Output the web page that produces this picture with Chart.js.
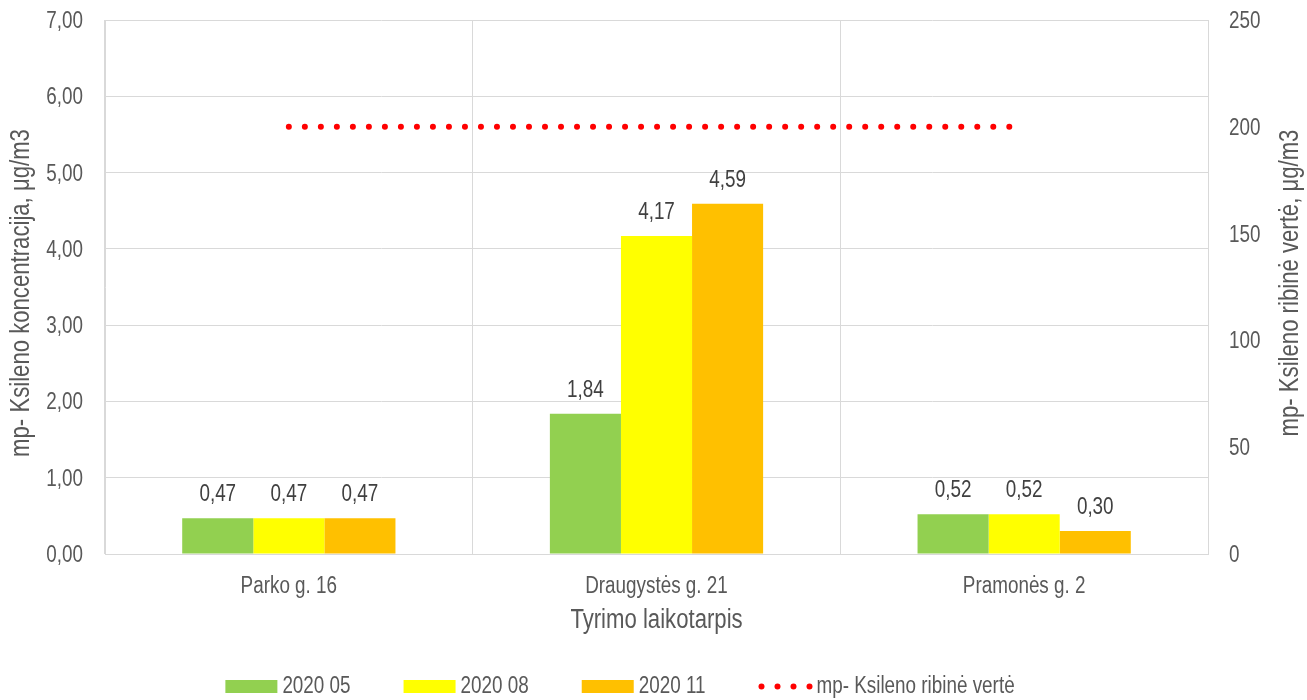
<!DOCTYPE html>
<html lang="lt">
<head>
<meta charset="utf-8">
<title>mp- Ksileno koncentracija</title>
<script src="https://cdn.jsdelivr.net/npm/chart.js@4.4.1/dist/chart.umd.min.js"></script>
<style>
  html, body { margin: 0; padding: 0; background: #fff; }
  #graphique { display: block; }
</style>
</head>
<body>
<canvas id="graphique" width="1307" height="700"></canvas>
<script>
const categories = ["Parko g. 16", "Draugystės g. 21", "Pramonės g. 2"];
const serie05 = [0.47, 1.84, 0.52];
const serie08 = [0.47, 4.17, 0.52];
const serie11 = [0.47, 4.59, 0.30];
const ribineVerte = [200, 200, 200];
const seriesLabels = ["2020 05", "2020 08", "2020 11", "mp- Ksileno ribinė vertė"];
const leftTicks = [0, 1, 2, 3, 4, 5, 6, 7];
const rightTicks = [0, 50, 100, 150, 200, 250];
const titreX = "Tyrimo laikotarpis";
const titreY = "mp- Ksileno koncentracija, μg/m3";
const titreY1 = "mp- Ksileno ribinė vertė, μg/m3";

const FONT = "'Liberation Sans', Arial, sans-serif";
const ETROIT = 0.82; // pas de police "narrow" installée, on compresse
const GRIS = "#d9d9d9";
const TEXTE = "#595959";

function virgule(v) {
    return v.toFixed(2).replace(".", ",");
}

function ecrire(ctx, str, x, y, taille, align, couleur, angle) {
    ctx.save();
    ctx.translate(x, y);
    if (angle) ctx.rotate(angle);
    ctx.scale(ETROIT, 1);
    ctx.font = taille + "px " + FONT;
    ctx.fillStyle = couleur || TEXTE;
    ctx.textAlign = align;
    ctx.textBaseline = "alphabetic";
    ctx.fillText(str, 0, 0);
    ctx.restore();
}

function largeur(ctx, str, taille) {
    ctx.save();
    ctx.font = taille + "px " + FONT;
    let w = ctx.measureText(str).width * ETROIT;
    ctx.restore();
    return w;
}

// valeurs au-dessus des barres
const etiquettes = {
    id: "etiquettes",
    afterDatasetsDraw(chart) {
        let ctx = chart.ctx;
        chart.data.datasets.forEach(function (ds, i) {
            if (ds.type === "line") return;
            chart.getDatasetMeta(i).data.forEach(function (bar, j) {
                ecrire(ctx, virgule(ds.data[j]), bar.x, bar.y - 17, 23, "center", "#404040");
            });
        });
    }
};

// graduations, titres des axes et légende
const textes = {
    id: "textes",
    afterDraw(chart) {
        let ctx = chart.ctx;
        let area = chart.chartArea;
        let sx = chart.scales.x, sy = chart.scales.y, sy1 = chart.scales.y1;

        sy.ticks.forEach(function (t) {
            ecrire(ctx, virgule(t.value), area.left - 22, sy.getPixelForValue(t.value) + 8, 23, "right");
        });
        sy1.ticks.forEach(function (t) {
            ecrire(ctx, String(t.value), area.right + 21, sy1.getPixelForValue(t.value) + 8, 23, "left");
        });
        chart.data.labels.forEach(function (lab, i) {
            ecrire(ctx, lab, sx.getPixelForValue(i), area.bottom + 39, 23, "center");
        });

        let milieu = (area.top + area.bottom) / 2;
        ecrire(ctx, titreX, (area.left + area.right) / 2, area.bottom + 74, 27, "center");
        ecrire(ctx, titreY, 29, milieu + 6, 27, "center", TEXTE, -Math.PI / 2);
        ecrire(ctx, titreY1, 1298, milieu - 4, 27, "center", TEXTE, -Math.PI / 2);

        // légende
        let items = chart.data.datasets.map(function (ds) {
            let ligne = ds.type === "line";
            return {
                texte: ds.label,
                couleur: ligne ? ds.borderColor : ds.backgroundColor,
                ligne: ligne,
                boite: ligne ? 58 : 57,
                w: largeur(ctx, ds.label, 23)
            };
        });
        let total = 0;
        items.forEach(function (it, k) {
            total += it.boite + it.w + (k < items.length - 1 ? 53 : 0);
        });
        let x = 620 - total / 2;
        ctx.save();
        items.forEach(function (it) {
            ctx.fillStyle = it.couleur;
            if (it.ligne) {
                for (let k = 0; k < 4; k++) {
                    ctx.beginPath();
                    ctx.arc(x + 3 + 16 * k, 686.5, 3, 0, Math.PI * 2);
                    ctx.fill();
                }
            } else {
                ctx.fillRect(x, 680, 52, 13);
            }
            ecrire(ctx, it.texte, x + it.boite, 692.5, 23, "left");
            x += it.boite + it.w + 53;
        });
        ctx.restore();
    }
};

let ctx = document.getElementById("graphique").getContext("2d");
let chart = new Chart(ctx, {
    data: {
        labels: categories,
        datasets: [
            { type: "bar", label: seriesLabels[0], data: serie05, backgroundColor: "#92d050", yAxisID: "y", order: 2 },
            { type: "bar", label: seriesLabels[1], data: serie08, backgroundColor: "#ffff00", yAxisID: "y", order: 2 },
            { type: "bar", label: seriesLabels[2], data: serie11, backgroundColor: "#ffc000", yAxisID: "y", order: 2 },
            {
                type: "line", label: seriesLabels[3], data: ribineVerte, yAxisID: "y1", order: 1,
                borderColor: "#ff0000", backgroundColor: "#ff0000", borderWidth: 6,
                borderDash: [0.01, 16], borderCapStyle: "round", pointRadius: 0, fill: false
            }
        ]
    },
    options: {
        responsive: false,
        animation: false,
        layout: { padding: { top: 20, left: 0, right: 0, bottom: 0 } },
        datasets: {
            bar: { categoryPercentage: 0.58, barPercentage: 1.0 }
        },
        plugins: {
            legend: { display: false },
            tooltip: { enabled: false }
        },
        scales: {
            x: {
                grid: { color: GRIS, offset: true, drawTicks: false },
                border: { color: GRIS },
                ticks: { display: false },
                afterFit: function (s) { s.height = 146; }
            },
            y: {
                position: "left",
                min: leftTicks[0],
                max: leftTicks[leftTicks.length - 1],
                ticks: { stepSize: leftTicks[1] - leftTicks[0], display: false },
                grid: { color: GRIS, drawTicks: false },
                border: { color: GRIS },
                afterFit: function (s) { s.width = 105; }
            },
            y1: {
                position: "right",
                min: rightTicks[0],
                max: rightTicks[rightTicks.length - 1],
                ticks: { stepSize: rightTicks[1] - rightTicks[0], display: false },
                grid: { drawOnChartArea: false, drawTicks: false },
                border: { display: false },
                afterFit: function (s) { s.width = 99; }
            }
        }
    },
    plugins: [etiquettes, textes]
});
</script>
</body>
</html>
